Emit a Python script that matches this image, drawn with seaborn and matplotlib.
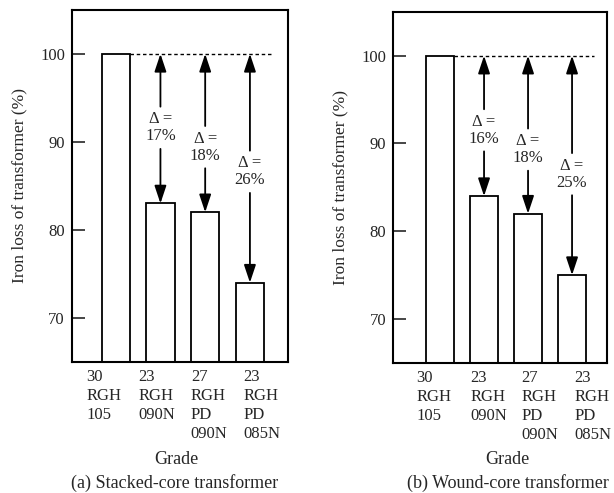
import numpy as np
import pandas as pd
import matplotlib
matplotlib.use("Agg")
import matplotlib.pyplot as plt
import seaborn as sns

# data
grades = ["30\nRGH\n105", "23\nRGH\n090N", "27\nRGH\nPD\n090N", "23\nRGH\nPD\n085N"]
loss_stacked = [100, 83, 82, 74]
loss_wound = [100, 84, 82, 75]
delta_stacked = ["", "17%", "18%", "26%"]
delta_wound = ["", "16%", "18%", "25%"]
captions = ["(a) Stacked-core transformer", "(b) Wound-core transformer"]

sns.set_theme(style="white")
plt.rcParams["font.family"] = ["Liberation Serif", "DejaVu Serif"]

fig = plt.figure(figsize=(6.14, 4.93), dpi=100)

panels = [
    dict(rect=[0.117, 0.266, 0.352, 0.714], xlim=(-0.98, 3.85), vals=loss_stacked,
         deltas=delta_stacked, cap_x=0.284, grade_x=0.288, label_y=[None, 91.6, 89.4, 86.6],
         lab_dx=[-12, -4, 4, 12]),
    dict(rect=[0.640, 0.264, 0.349, 0.712], xlim=(-1.07, 3.80), vals=loss_wound,
         deltas=delta_wound, cap_x=0.828, grade_x=0.826, label_y=[None, 91.5, 89.3, 86.5],
         lab_dx=[-6, 5, 12, 21]),
]

for p, cap in zip(panels, captions):
    ax = fig.add_axes(p["rect"])
    df = pd.DataFrame({"grade": grades, "loss": p["vals"]})
    sns.barplot(data=df, x="grade", y="loss", color="white", edgecolor="black",
                linewidth=1.3, width=0.63, saturation=1, ax=ax)
    ax.set_ylim(65, 105)
    ax.set_xlim(*p["xlim"])
    ax.set_yticks([70, 80, 90, 100])
    ax.tick_params(axis="y", direction="in", length=9, width=1.2, labelsize=12, pad=5,
                   left=True)
    # grade labels sit a little off-centre in the original, so place them by hand
    ax.tick_params(axis="x", length=0, labelbottom=False)
    for i, g in enumerate(grades):
        ax.annotate(g, xy=(i, 0), xycoords=ax.get_xaxis_transform(),
                    xytext=(p["lab_dx"][i], -7), textcoords="offset pixels",
                    ha="center", va="top", multialignment="left",
                    fontsize=12, linespacing=1.25, annotation_clip=False)
    for s in ax.spines.values():
        s.set_linewidth(1.5)
        s.set_color("black")
    ax.set_xlabel("")
    ax.set_ylabel("Iron loss of transformer (%)", fontsize=12.5, labelpad=9)

    # dashed reference line at 100 %
    ax.plot([0.315, 3.5], [100, 100], color="black", lw=1, ls=(0, (2.5, 2)))

    # double arrows with delta labels
    for i in range(1, len(grades)):
        v = p["vals"][i]
        ly = p["label_y"][i]
        ax.text(i, ly, "\u0394 =\n" + p["deltas"][i], ha="center", va="center",
                fontsize=12, linespacing=1.1)
        aprops = dict(arrowstyle="-|>,head_length=0.9,head_width=0.3", color="black",
                      lw=1.3, shrinkA=0, shrinkB=0)
        ax.annotate("", xy=(i, 100), xytext=(i, ly + 2.4), arrowprops=aprops)
        ax.annotate("", xy=(i, v), xytext=(i, ly - 2.4), arrowprops=aprops)

    fig.text(p["grade_x"], 0.067, "Grade", ha="center", va="center", fontsize=13)
    fig.text(p["cap_x"], 0.02, cap, ha="center", va="center", fontsize=13)

fig.savefig("out.png", dpi=100)
